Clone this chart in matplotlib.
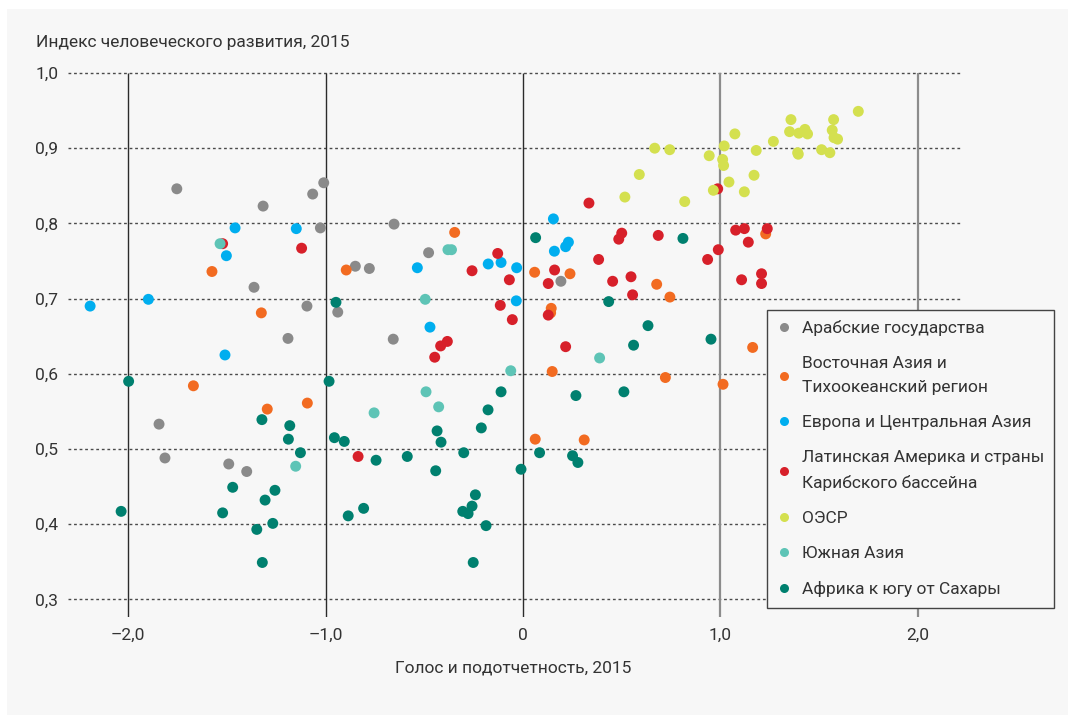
import numpy as np
import matplotlib
matplotlib.use('Agg')
import matplotlib.pyplot as plt
from matplotlib.lines import Line2D
from matplotlib.patches import Rectangle

plt.rcParams['font.family'] = ['Roboto', 'DejaVu Sans']

# region names and colours
regions = ['Арабские государства',
           'Восточная Азия и\nТихоокеанский регион',
           'Европа и Центральная Азия',
           'Латинская Америка и страны\nКарибского бассейна',
           'ОЭСР',
           'Южная Азия',
           'Африка к югу от Сахары']
colors = ['#8a8a8a', '#f26b21', '#00aeef', '#d7202a', '#d4e04f', '#5ec4b6', '#00806f']

# (voice & accountability, HDI) per region
arab = [(-1.753, 0.846), (-1.316, 0.823), (-1.065, 0.839), (-1.009, 0.854), (-0.653, 0.799),
        (-1.026, 0.794), (-0.849, 0.743), (-0.778, 0.740), (-1.362, 0.715), (-1.094, 0.690),
        (-0.938, 0.682), (-1.190, 0.647), (-0.657, 0.646), (-1.843, 0.533), (-1.813, 0.488),
        (-1.490, 0.480), (-1.399, 0.470), (-0.478, 0.761), (0.192, 0.723)]
east_asia = [(-1.575, 0.736), (-0.895, 0.738), (-1.325, 0.681), (-1.669, 0.584), (-1.092, 0.561),
             (-1.295, 0.553), (-0.346, 0.788), (0.059, 0.735), (0.238, 0.733), (0.143, 0.687),
             (0.140, 0.681), (0.677, 0.719), (0.744, 0.702), (1.163, 0.635), (0.148, 0.603),
             (0.721, 0.595), (1.013, 0.586), (0.062, 0.513), (0.310, 0.512), (1.229, 0.786)]
europe = [(-1.458, 0.794), (-1.148, 0.793), (-1.502, 0.757), (-2.192, 0.690), (-1.897, 0.699),
          (-1.509, 0.625), (0.154, 0.806), (0.230, 0.775), (0.216, 0.769), (0.159, 0.763),
          (-0.535, 0.741), (-0.176, 0.746), (-0.111, 0.748), (-0.032, 0.741), (-0.034, 0.697),
          (-0.471, 0.662)]
latin = [(-1.521, 0.773), (-1.121, 0.767), (-0.835, 0.490), (0.334, 0.827), (0.500, 0.787),
         (0.485, 0.779), (0.685, 0.784), (0.986, 0.846), (1.077, 0.791), (1.121, 0.793),
         (1.141, 0.775), (1.237, 0.793), (0.989, 0.765), (1.208, 0.733), (1.208, 0.720),
         (-0.128, 0.760), (-0.258, 0.737), (-0.069, 0.725), (-0.115, 0.691), (-0.054, 0.672),
         (-0.383, 0.643), (-0.417, 0.637), (-0.447, 0.622), (0.160, 0.738), (0.128, 0.720),
         (0.383, 0.752), (0.454, 0.723), (0.547, 0.729), (0.555, 0.705), (0.128, 0.678),
         (0.216, 0.636), (0.935, 0.752), (1.107, 0.725)]
oecd = [(0.516, 0.835), (0.589, 0.865), (0.667, 0.900), (0.743, 0.898), (0.819, 0.829),
        (0.943, 0.890), (0.964, 0.844), (1.019, 0.903), (1.011, 0.885), (1.016, 0.877),
        (1.043, 0.855), (1.073, 0.919), (1.181, 0.897), (1.170, 0.864), (1.121, 0.842),
        (1.268, 0.909), (1.357, 0.938), (1.350, 0.922), (1.397, 0.920), (1.428, 0.925),
        (1.441, 0.919), (1.391, 0.894), (1.394, 0.892), (1.512, 0.898), (1.554, 0.894),
        (1.573, 0.938), (1.566, 0.924), (1.575, 0.914), (1.593, 0.912), (1.698, 0.949)]
south_asia = [(-1.534, 0.773), (-0.754, 0.548), (-1.151, 0.477), (-0.380, 0.765), (-0.362, 0.765),
              (-0.495, 0.699), (-0.062, 0.604), (-0.491, 0.576), (-0.427, 0.556), (0.388, 0.621)]
africa = [(-0.947, 0.695), (-1.997, 0.590), (-0.982, 0.590), (-1.322, 0.539), (-1.181, 0.531),
          (-1.188, 0.513), (-0.955, 0.515), (-0.905, 0.510), (-1.127, 0.495), (-0.744, 0.485),
          (-1.470, 0.449), (-1.256, 0.445), (-1.306, 0.432), (-2.035, 0.417), (-1.521, 0.415),
          (-0.885, 0.411), (-0.807, 0.421), (-1.267, 0.401), (-1.348, 0.393), (-1.320, 0.349),
          (0.064, 0.781), (0.810, 0.780), (-0.111, 0.576), (-0.177, 0.552), (-0.211, 0.528),
          (-0.435, 0.524), (-0.415, 0.509), (-0.300, 0.495), (-0.586, 0.490), (-0.442, 0.471),
          (-0.241, 0.439), (-0.010, 0.473), (0.434, 0.696), (0.633, 0.664), (0.952, 0.646),
          (0.560, 0.638), (0.511, 0.576), (0.268, 0.571), (0.084, 0.495), (0.251, 0.491),
          (0.278, 0.482), (-0.305, 0.417), (-0.278, 0.414), (-0.258, 0.424), (-0.187, 0.398),
          (-0.252, 0.349)]
groups = [arab, east_asia, europe, latin, oecd, south_asia, africa]

xticks = [-2.0, -1.0, 0.0, 1.0, 2.0]
xlabels = ['–2,0', '–1,0', '0', '1,0', '2,0']
yticks = [0.3, 0.4, 0.5, 0.6, 0.7, 0.8, 0.9, 1.0]
ylabels = ['0,3', '0,4', '0,5', '0,6', '0,7', '0,8', '0,9', '1,0']

bg = '#f7f7f7'
txt = '#333333'
fs = 12.5

fig = plt.figure(figsize=(10.68, 7.15), dpi=100, facecolor='white')
# grey panel behind everything
fig.patches.append(Rectangle((7/1068, 0), 1 - 7/1068, 1 - 9/715, transform=fig.transFigure,
                             facecolor=bg, edgecolor='none', zorder=-10))

ax = fig.add_axes([68/1068, 98/715, 892/1068, 544/715])
ax.set_facecolor(bg)
ax.set_xlim(-2.304, 2.213)
ax.set_ylim(0.2765, 1.0)
for s in ax.spines.values():
    s.set_visible(False)

# dotted horizontal grid
for y in yticks:
    ax.axhline(y, color='#4a4a4a', lw=1, ls=(0, (2, 2)), zorder=1, clip_on=False)
# vertical reference lines
for x in xticks:
    c, w = ('#2b2b2b', 1.0) if x <= 0 else ('#8c8c8c', 1.6)
    ax.plot([x, x], [0.2765, 1.0], color=c, lw=w, zorder=1, solid_capstyle='butt')

for pts, col in zip(groups, colors):
    p = np.array(pts)
    ax.scatter(p[:, 0], p[:, 1], s=62, color=col, edgecolors='none', zorder=3)

ax.set_xticks(xticks)
ax.set_xticklabels(xlabels)
ax.set_yticks(yticks)
ax.set_yticklabels(ylabels)
ax.tick_params(length=0, labelsize=fs, labelcolor=txt)
ax.tick_params(axis='x', pad=8)
ax.tick_params(axis='y', pad=7)

fig.text(36/1068, 1 - 42/715, 'Индекс человеческого развития, 2015', fontsize=fs,
         color=txt, va='center', ha='left')
fig.text(513/1068, 1 - 668/715, 'Голос и подотчетность, 2015', fontsize=fs,
         color=txt, va='center', ha='center')

handles = [Line2D([], [], ls='none', marker='o', markersize=6.5, color=c, markeredgewidth=0)
           for c in colors]
leg = ax.legend(handles, regions, loc='upper left',
                bbox_to_anchor=(767/1068, 1 - 310/715), bbox_transform=fig.transFigure,
                fontsize=fs, frameon=True, fancybox=False, labelcolor=txt,
                handlelength=0.8, handletextpad=0.6, labelspacing=1.15,
                borderpad=0.6, borderaxespad=0)
for t in leg.get_texts():
    t.set_linespacing(1.75)
leg.get_frame().set_facecolor(bg)
leg.get_frame().set_edgecolor('#444444')
leg.get_frame().set_linewidth(1.0)
leg.get_frame().set_alpha(1)
leg.set_zorder(5)

plt.savefig('out.png', dpi=100, facecolor='white')
